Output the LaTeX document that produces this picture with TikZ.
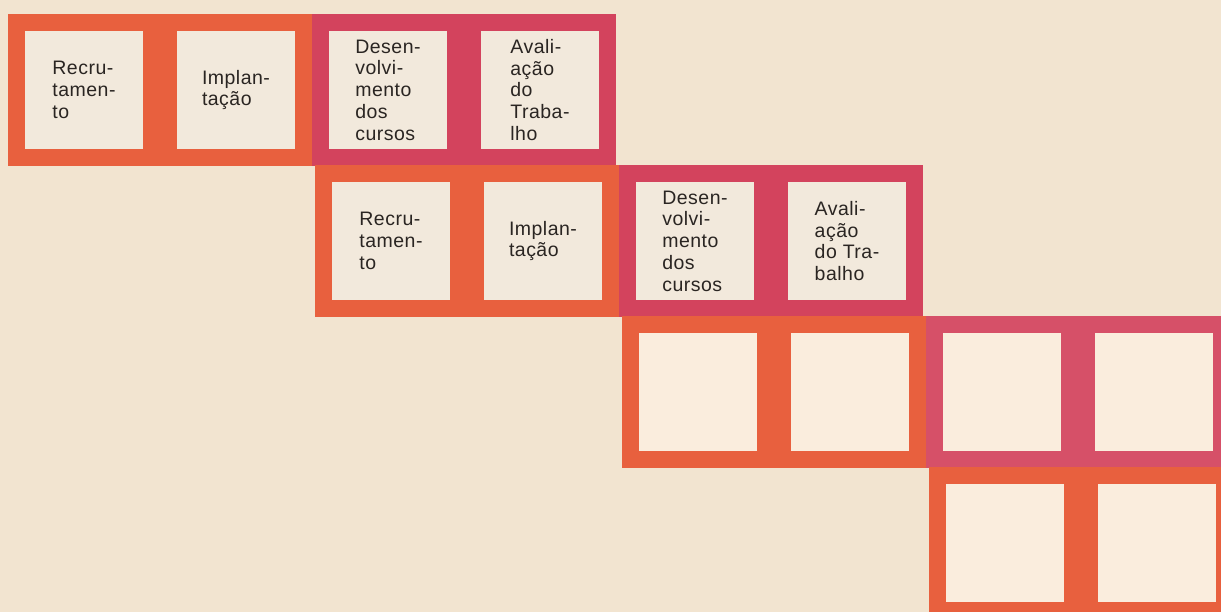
\documentclass[tikz,border=0pt]{standalone}
\usepackage{fontspec}
\setmainfont{Liberation Sans}[LetterSpace=2.5]
\definecolor{paper}{HTML}{F2E4D0}
\definecolor{inner}{HTML}{F2E9DC}
\definecolor{cream}{HTML}{FAEDDD}
\definecolor{ora}{HTML}{E8603E}
\definecolor{crim}{HTML}{D3435D}
\definecolor{ink}{HTML}{2A2522}

\begin{document}
\begin{tikzpicture}[x=1pt,y=-1pt,sq/.style={draw=#1,line width=17pt,fill=inner,minimum size=135pt,inner sep=0pt,outer sep=0pt,align=left,text=ink,font=\fontsize{19.5}{21.8}\selectfont}]
\path[use as bounding box,fill=paper] (0,0) rectangle (1221,612);
\clip (0,0) rectangle (1221,612);
% first row
\node[sq=ora] (a1) at (84,90) {Recru-\\tamen-\\to};
\node[sq=ora] (a2) at (236,90) {Implan-\\tação};
\node[sq=crim] (a3) at (388,90) {Desen-\\volvi-\\mento\\dos\\cursos};
\node[sq=crim] (a4) at (540,90) {Avali-\\ação\\do\\Traba-\\lho};
% second row
\node[sq=ora] (b1) at (391,241) {Recru-\\tamen-\\to};
\node[sq=ora] (b2) at (543,241) {Implan-\\tação};
\node[sq=crim] (b3) at (695,241) {Desen-\\volvi-\\mento\\dos\\cursos};
\node[sq=crim] (b4) at (847,241) {Avali-\\ação\\do Tra-\\balho};
% third row, still empty
\node[sq=ora,fill=cream] (c1) at (698,392) {};
\node[sq=ora,fill=cream] (c2) at (850,392) {};
\node[sq=crim!93!white,fill=cream] (c3) at (1002,392) {};
\node[sq=crim!93!white,fill=cream] (c4) at (1154,392) {};
% fourth row
\node[sq=ora,fill=cream] (d1) at (1005,543) {};
\node[sq=ora,fill=cream] (d2) at (1157,543) {};
\end{tikzpicture}
\end{document}
